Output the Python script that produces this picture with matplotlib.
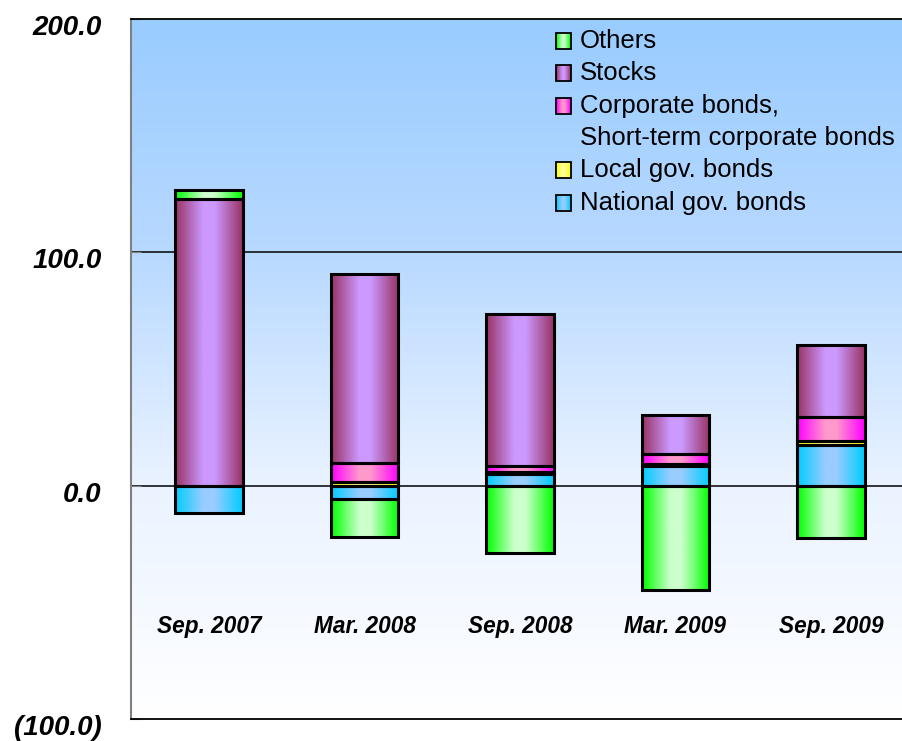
import numpy as np
import matplotlib
matplotlib.use('Agg')
import matplotlib.pyplot as plt
import matplotlib.transforms as mtransforms
from matplotlib.colors import to_rgb, LinearSegmentedColormap
from matplotlib.patches import Rectangle

plt.rcParams['font.family'] = ['Liberation Sans', 'DejaVu Sans']

# data
periods = ['Sep. 2007', 'Mar. 2008', 'Sep. 2008', 'Mar. 2009', 'Sep. 2009']
national = [-11.5, -5.7, 5.0, 8.6, 17.3]
local = [0.0, 1.7, 0.8, 0.7, 2.0]
corporate = [0.0, 8.0, 2.7, 4.3, 10.1]
stocks = [122.9, 81.0, 64.9, 16.8, 30.8]
others = [3.9, -16.5, -28.9, -44.8, -22.5]

y_ticks = [200, 100, 0, -100]
y_labels = ['200.0', '100.0', '0.0', '(100.0)']

# (label, values, edge colour, centre colour) in stacking order
series = [
    ('National gov. bonds', national, '#00CCFF', '#99CCFF'),
    ('Local gov. bonds', local, '#FFFF00', '#FFFF99'),
    ('Corporate bonds,\nShort-term corporate bonds', corporate, '#FF00FF', '#FF99CC'),
    ('Stocks', stocks, '#993366', '#CC99FF'),
    ('Others', others, '#00FF00', '#CCFFCC'),
]


def bar_gradient(edge, centre, n=64):
    t = np.linspace(0, 1, n)
    w = np.clip(1.2 * (1 - np.abs(2 * t - 1)), 0, 1)
    e = np.array(to_rgb(edge))
    c = np.array(to_rgb(centre))
    return (e[None, :] + (c - e)[None, :] * w[:, None])[None, :, :]


fig = plt.figure(figsize=(9.02, 7.41), dpi=100)
ax = fig.add_axes([131 / 902, 22 / 741, 771 / 902, 700 / 741])

xmin, xmax = -0.502, 4.457
ymin, ymax = -100, 200

# background gradient
bg = LinearSegmentedColormap.from_list('bg', [
    (0.0, (153 / 255, 204 / 255, 1.0)),
    (0.333, (184 / 255, 217 / 255, 1.0)),
    (0.667, (234 / 255, 243 / 255, 1.0)),
    (1.0, (1.0, 1.0, 1.0)),
])
ax.imshow(np.linspace(0, 1, 256)[:, None], cmap=bg, aspect='auto',
          extent=[xmin, xmax, ymin, ymax], zorder=0, interpolation='bilinear')

ax.axhline(100, color='black', lw=1.1, zorder=1)
ax.axhline(0, color='black', lw=1.1, zorder=1)

x = np.arange(len(periods))
pos_base = np.zeros(len(periods))
neg_base = np.zeros(len(periods))
for label, vals, edge, centre in series:
    h = np.array(vals, dtype=float)
    bottoms = np.where(h >= 0, pos_base, neg_base)
    bars = ax.bar(x, h, 0.437, bottom=bottoms, facecolor='none',
                  edgecolor='black', linewidth=2.2, zorder=3)
    grad = bar_gradient(edge, centre)
    for p, v in zip(bars.patches, h):
        if v == 0:
            p.set_visible(False)
            continue
        x0, y0 = p.get_x(), p.get_y()
        im = ax.imshow(grad, aspect='auto', interpolation='bilinear', zorder=2,
                       extent=[x0, x0 + p.get_width(), y0, y0 + p.get_height()])
        im.set_clip_path(p)
    pos_base = pos_base + np.where(h >= 0, h, 0)
    neg_base = neg_base + np.where(h < 0, h, 0)

# category labels inside the plot area
for xi, name in zip(x, periods):
    ax.text(xi, -63.2, name, ha='center', va='baseline', fontsize=16.3,
            fontweight='bold', fontstyle='italic', zorder=4)

ax.set_xlim(xmin, xmax)
ax.set_ylim(ymin, ymax)
ax.set_xticks([])
ax.set_yticks(y_ticks)
ax.set_yticklabels(y_labels, fontsize=20, fontweight='bold', fontstyle='italic')
ax.tick_params(axis='y', direction='in', length=7, color='#808080', pad=21)
shift = mtransforms.ScaledTranslation(0, -0.06, fig.dpi_scale_trans)
for t in ax.get_yticklabels():
    t.set_transform(t.get_transform() + shift)

ax.spines['right'].set_visible(False)
ax.spines['left'].set_color('#808080')
ax.spines['left'].set_linewidth(1.5)
ax.spines['top'].set_linewidth(1.3)
ax.spines['bottom'].set_linewidth(1.3)


# legend drawn by hand (first square sits on the first line of a 2-line label)
def px_ax(px, py):
    return (px - 131) / 771, (719 - py) / 700


legend_rows = [
    ('Others', '#00FF00', '#CCFFCC', 41),
    ('Stocks', '#993366', '#CC99FF', 73),
    ('Corporate bonds,', '#FF00FF', '#FF99CC', 106),
    ('Short-term corporate bonds', None, None, 138),
    ('Local gov. bonds', '#FFFF00', '#FFFF99', 170),
    ('National gov. bonds', '#00CCFF', '#99CCFF', 203),
]
for text, edge, centre, py in legend_rows:
    tx, ty = px_ax(580, py)
    ax.text(tx, ty, text, transform=ax.transAxes, fontsize=18.5,
            ha='left', va='center', zorder=5)
    if edge is None:
        continue
    x0, y1 = px_ax(556, py - 8)
    x1, y0 = px_ax(571, py + 8)
    im = ax.imshow(bar_gradient(edge, centre, 16), aspect='auto', zorder=5,
                   extent=[x0, x1, y0, y1], transform=ax.transAxes,
                   interpolation='bilinear')
    ax.add_patch(Rectangle((x0, y0), x1 - x0, y1 - y0, transform=ax.transAxes,
                           facecolor='none', edgecolor='black', lw=1.3, zorder=6))

ax.set_xlim(xmin, xmax)
ax.set_ylim(ymin, ymax)

fig.savefig('out.png', dpi=100)
